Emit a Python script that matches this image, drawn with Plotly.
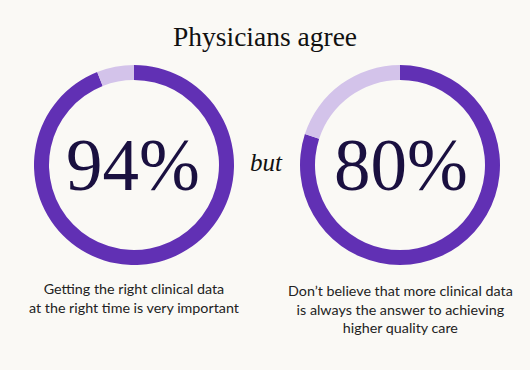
import plotly.graph_objects as go

W, H = 530, 370
title = "Physicians agree"
values_left = [94, 6]
values_right = [80, 20]
labels = ["Agree", "Other"]
center_texts = ["94%", "80%"]
captions = [
    "Getting the right clinical data<br>at the right time is very important",
    "Don’t believe that more clinical data<br>is always the answer to achieving<br>higher quality care",
]
connector = "but"

dark = "#6130b4"
light = "#d3c3ea"
bg = "#faf9f5"
ink = "#1a1040"

def px_x(a, b):
    return [a / W, b / W]

def px_y(top, bottom):
    return [1 - bottom / H, 1 - top / H]

fig = go.Figure()
for vals, cx in ((values_left, 134), (values_right, 400)):
    fig.add_trace(go.Pie(
        values=vals, labels=labels, hole=0.85, sort=False,
        direction="clockwise", rotation=0,
        marker=dict(colors=[dark, light], line=dict(width=0)),
        textinfo="none", hoverinfo="skip", showlegend=False,
        domain=dict(x=px_x(cx - 100, cx + 100), y=px_y(65, 265)),
    ))

ann = [
    dict(x=265 / W, y=1 - 36 / H, text=title, font=dict(family="Liberation Serif", size=27.5, color="#111111")),
    dict(x=133 / W, y=1 - 165 / H, text=center_texts[0], font=dict(family="Liberation Serif", size=73, color=ink)),
    dict(x=401 / W, y=1 - 165 / H, text=center_texts[1], font=dict(family="Liberation Serif", size=73, color=ink)),
    dict(x=266 / W, y=1 - 163 / H, text="<i>" + connector + "</i>", font=dict(family="Liberation Serif", size=25, color="#111111")),
    dict(x=134 / W, y=1 - 298 / H, text=captions[0], font=dict(family="Lato", size=14.3, color="#222222")),
    dict(x=400 / W, y=1 - 309 / H, text=captions[1], font=dict(family="Lato", size=14.3, color="#222222")),
]
for a in ann:
    a.update(xref="paper", yref="paper", showarrow=False, xanchor="center", yanchor="middle", align="center")
fig.update_layout(
    width=W, height=H, margin=dict(l=0, r=0, t=0, b=0),
    paper_bgcolor=bg, plot_bgcolor=bg, annotations=ann,
)
fig.write_html(
    "out.html",
    config={"displayModeBar": False},
    post_script="document.body.style.margin='0';document.body.style.background='" + bg + "';",
)
